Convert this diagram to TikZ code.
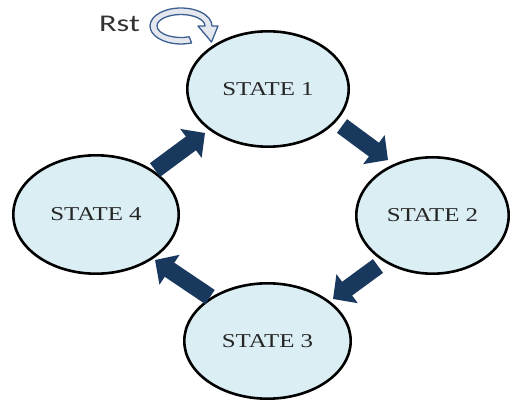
\documentclass[tikz,border=0pt]{standalone}
\usepackage{fontspec}
\setmainfont{Liberation Serif}
\newfontfamily\rstfont{Carlito}
\usetikzlibrary{shapes.geometric,arrows.meta,calc}
\definecolor{navy}{RGB}{24,56,94}
\definecolor{stfill}{RGB}{219,238,244}
\definecolor{loopedge}{RGB}{60,95,145}
\definecolor{loopfill}{RGB}{228,232,238}
\begin{document}
\begin{tikzpicture}[x=1pt,y=1pt,
  stnode/.style={ellipse, draw=black, line width=2.6pt, fill=stfill, inner sep=0pt,
    font=\fontsize{19.6}{22}\selectfont, text=black!85},
  blockarr/.style={draw=navy, line width=17pt, -{Triangle[width=35pt,length=17.5pt]}},
  loopband/.style={draw=loopedge, line width=1.3pt, fill=loopfill, line join=round}]
\useasboundingbox (0,0) rectangle (512,402);
\fill[white] (0,0) rectangle (512,402);
% states
\node[stnode, minimum width=161.4pt, minimum height=115.4pt] (s1) at (268,313) {\scalebox{1.27}[1]{STATE 1}};
\node[stnode, minimum width=152.4pt, minimum height=116.4pt] (s2) at (432.5,186.5) {\scalebox{1.27}[1]{STATE 2}};
\node[stnode, minimum width=166.4pt, minimum height=115.4pt] (s3) at (267.5,61) {\scalebox{1.27}[1]{STATE 3}};
\node[stnode, minimum width=165.4pt, minimum height=118.4pt] (s4) at (96,187.5) {\scalebox{1.27}[1]{STATE 4}};
% transitions
\draw[blockarr] ($(s1.center)+(74,-37)$) -- ($(s2.center)+(-44.5,55.5)$);
\draw[blockarr] ($(s2.center)+(-54.5,-50.5)$) -- ($(s3.center)+(65.5,42)$);
\draw[blockarr] ($(s3.center)+(-57.5,44)$) -- ($(s4.center)+(59,-45.5)$);
\draw[blockarr] ($(s4.center)+(59,44.5)$) -- ($(s1.center)+(-63,-44)$);
% reset
\node[font=\rstfont\fontsize{24}{26}\selectfont, text=black!80] (rst) at (119.5,378) {\scalebox{1.35}[1]{Rst}};
\coordinate (lc) at (181,376);
\filldraw[loopband] ($(lc)+(10.6,-16.9)$)
  arc[start angle=-70, end angle=-360, x radius=31, y radius=18]
  -- ($(lc)+(37,0)$) -- ($(lc)+(30.5,-16)$) -- ($(lc)+(17,0)$) -- ($(lc)+(24,0)$)
  arc[start angle=0, end angle=290, x radius=24, y radius=11.5] -- cycle;
\end{tikzpicture}
\end{document}
